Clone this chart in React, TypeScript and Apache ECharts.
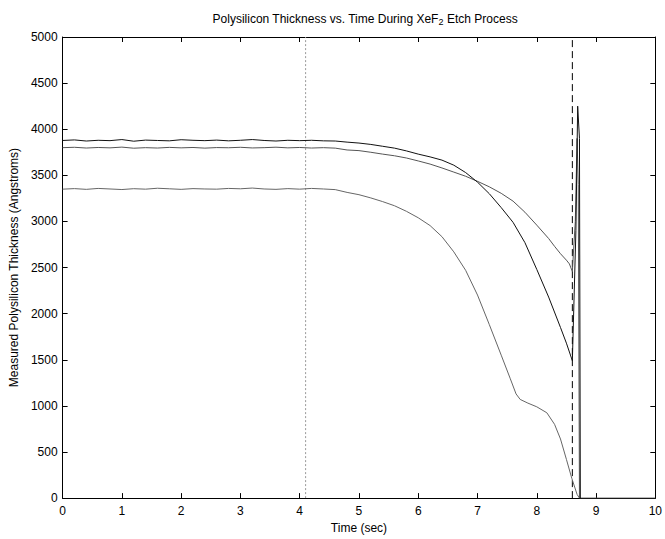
import React, { useEffect, useRef } from "react";
import * as echarts from "echarts";

const flatTimes = [0, 0.2, 0.4, 0.6, 0.8, 1.0, 1.2, 1.4, 1.6, 1.8, 2.0, 2.2, 2.4, 2.6, 2.8, 3.0, 3.2, 3.4, 3.6, 3.8, 4.0, 4.2, 4.4];

const topTimes = [...flatTimes, 4.6, 4.8, 5.0, 5.2, 5.4, 5.6, 5.8, 6.0, 6.2, 6.4, 6.6, 6.8, 7.0, 7.2, 7.4, 7.6, 7.8, 8.0, 8.2, 8.4, 8.5, 8.6, 8.66, 8.69, 8.72, 8.735];
const topValues = [3878, 3884, 3872, 3880, 3876, 3888, 3870, 3882, 3878, 3874, 3886, 3880, 3876, 3882, 3874, 3880, 3888, 3878, 3872, 3880, 3876, 3880, 3874,
  3872, 3860, 3850, 3835, 3815, 3795, 3765, 3730, 3700, 3665, 3610, 3530, 3426, 3300, 3150, 2990, 2770, 2480, 2180, 1850, 1680, 1490, 2900, 4250, 3900, 0];

const midTimes = [...flatTimes, 4.6, 4.8, 5.0, 5.2, 5.4, 5.6, 5.8, 6.0, 6.2, 6.4, 6.6, 6.8, 7.0, 7.2, 7.4, 7.6, 7.8, 8.0, 8.2, 8.3, 8.4, 8.5, 8.55, 8.6, 8.65, 8.68, 8.7, 8.72, 10];
const midValues = [3800, 3804, 3796, 3802, 3798, 3806, 3794, 3800, 3796, 3803, 3798, 3802, 3795, 3801, 3799, 3804, 3797, 3800, 3805, 3798, 3802, 3796, 3800,
  3795, 3775, 3768, 3750, 3730, 3712, 3688, 3656, 3622, 3580, 3535, 3490, 3435, 3375, 3305, 3220, 3100, 2960, 2815, 2730, 2650, 2580, 2540, 2457, 3000, 3900, 3400, 0, 0];

const lowTimes = [...flatTimes, 4.6, 4.8, 5.0, 5.2, 5.4, 5.6, 5.8, 6.0, 6.2, 6.4, 6.6, 6.8, 7.0, 7.2, 7.4, 7.55, 7.65, 7.72, 7.85, 8.0, 8.17, 8.3, 8.4, 8.5, 8.59, 8.68, 8.72];
const lowValues = [3350, 3356, 3348, 3358, 3352, 3346, 3355, 3350, 3360, 3354, 3348, 3356, 3352, 3350, 3358, 3354, 3362, 3352, 3348, 3356, 3350, 3358, 3352,
  3345, 3315, 3290, 3255, 3215, 3170, 3110, 3040, 2955, 2835, 2670, 2470, 2202, 1880, 1550, 1300, 1130, 1070, 1030, 990, 925, 800, 641, 420, 216, 40, 0];

const dottedMarkerTime = 4.1;
const dashedMarkerTime = 8.6;
const yMax = 5000;

const pairs = (ts: number[], vs: number[]) => ts.map((t, i) => [t, vs[i]]);

export default function App() {
  const ref = useRef<HTMLDivElement>(null);
  useEffect(() => {
    if (!ref.current) return;
    const chart = echarts.init(ref.current, null, { renderer: "svg" });
    const font = "Liberation Sans, Arial, Helvetica, sans-serif";
    const axisCommon = {
      min: 0,
      axisLine: { show: true, onZero: false, lineStyle: { color: "#000", width: 1 } },
      axisTick: { show: true, inside: true, length: 5, lineStyle: { color: "#000", width: 1 } },
      splitLine: { show: false },
    };
    const plain = (v: number) => String(v);
    chart.setOption({
      animation: false,
      backgroundColor: "#fff",
      title: {
        text: "Polysilicon Thickness vs. Time During XeF{sub|2} Etch Process",
        left: 360,
        top: 6,
        textAlign: "center",
        textStyle: {
          fontFamily: font,
          fontSize: 12,
          fontWeight: "normal",
          color: "#000",
          rich: {
            sub: { fontFamily: font, fontSize: 9, verticalAlign: "bottom", padding: [6, 0, 0, 0], color: "#000" },
          },
        },
      },
      grid: { left: 62, right: 6, top: 37, bottom: 32, containLabel: false },
      xAxis: [
        {
          ...axisCommon,
          type: "value",
          max: 10,
          interval: 1,
          position: "bottom",
          name: "Time (sec)",
          nameLocation: "middle",
          nameGap: 19,
          nameTextStyle: { fontFamily: font, fontSize: 12, color: "#000" },
          axisLabel: { fontFamily: font, fontSize: 12, color: "#000", margin: 7, formatter: plain },
        },
        {
          ...axisCommon,
          type: "value",
          max: 10,
          interval: 1,
          position: "top",
          axisLabel: { show: false },
        },
      ],
      yAxis: [
        {
          ...axisCommon,
          type: "value",
          max: yMax,
          interval: 500,
          position: "left",
          name: "Measured Polysilicon Thickness (Angstroms)",
          nameLocation: "middle",
          nameGap: 31,
          nameRotate: 90,
          nameTextStyle: { fontFamily: font, fontSize: 12, color: "#000" },
          axisLabel: { fontFamily: font, fontSize: 12, color: "#000", margin: 5, formatter: plain },
        },
        {
          ...axisCommon,
          type: "value",
          max: yMax,
          interval: 500,
          position: "right",
          axisLabel: { show: false },
        },
      ],
      series: [
        {
          type: "line",
          data: [[dottedMarkerTime, 0], [dottedMarkerTime, yMax]],
          showSymbol: false,
          lineStyle: { color: "#999", width: 1, type: [2, 2] },
          z: 1,
        },
        {
          type: "line",
          data: [[dashedMarkerTime, 0], [dashedMarkerTime, yMax]],
          showSymbol: false,
          lineStyle: { color: "#000", width: 1, type: [7, 4] },
          z: 1,
        },
        {
          type: "line",
          data: pairs(lowTimes, lowValues),
          showSymbol: false,
          lineStyle: { color: "#666", width: 1 },
          z: 2,
        },
        {
          type: "line",
          data: pairs(midTimes, midValues),
          showSymbol: false,
          lineStyle: { color: "#555", width: 1 },
          z: 3,
        },
        {
          type: "line",
          data: pairs(topTimes, topValues),
          showSymbol: false,
          lineStyle: { color: "#111", width: 1 },
          z: 4,
        },
      ],
    });
    return () => chart.dispose();
  }, []);
  return <div ref={ref} style={{ width: 665, height: 539, position: "absolute", left: 0, top: 0 }} />;
}
